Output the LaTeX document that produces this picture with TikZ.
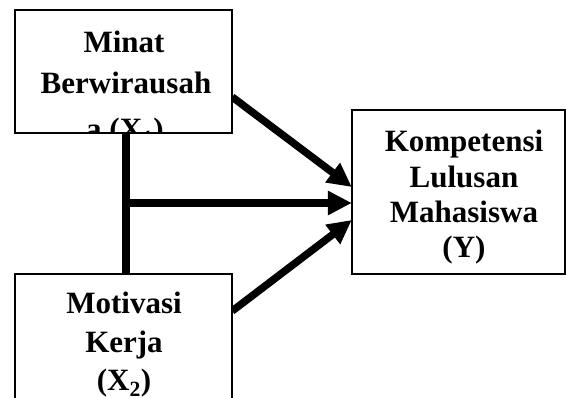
\documentclass[tikz,border=0pt]{standalone}
\usepackage{fontspec}
\setmainfont{Liberation Serif}
\usetikzlibrary{arrows.meta}

\tikzset{
  box/.style={draw=black, line width=1.5pt, fill=white, inner sep=0pt, rectangle},
  lbl/.style={anchor=base, inner sep=0pt, font=\fontsize{31}{36}\selectfont\bfseries},
  link/.style={line width=7.5pt, line cap=butt},
  arr/.style={link, -{Triangle[length=24pt, width=23pt]}}
}

\begin{document}
\begin{tikzpicture}[x=1pt, y=-1pt]
  \clip (0,0) rectangle (566,398);
  \fill[white] (0,0) rectangle (566,398);

  % anchor points along the box borders
  \coordinate (j)  at (126,203);
  \coordinate (u1) at (232,97);
  \coordinate (u2) at (351,187);
  \coordinate (l1) at (232,311);
  \coordinate (l2) at (351,220);

  % boxes (first pass only gives their anchors)
  \path
    node[minimum width=217pt, minimum height=123pt, inner sep=0pt] (b1) at (123.5,71.5) {}
    node[minimum width=217pt, minimum height=146pt, inner sep=0pt] (b2) at (123.5,347) {}
    node[minimum width=213pt, minimum height=164pt, inner sep=0pt] (b3) at (458.5,192) {};

  % connectors
  \draw[link] (b1.south -| j) -- (b2.north -| j);
  \draw[arr] (j) -- (b3.west |- j);
  \draw[arr] (b1.east |- u1) -- (b3.west |- u2);
  \draw[arr] (b2.east |- l1) -- (b3.west |- l2);

  % box outlines on top
  \node[box, minimum width=217pt, minimum height=123pt] (f1) at (b1) {};
  \node[box, minimum width=217pt, minimum height=146pt] (f2) at (b2) {};
  \node[box, minimum width=213pt, minimum height=164pt] (f3) at (b3) {};

  % labels, clipped to their boxes
  \begin{scope}
    \clip (b1.north west) rectangle (b1.south east);
    \node[lbl] (t1a) at (124,53)  {Minat};
    \node[lbl] (t1b) at (126,94)  {Berwirausah};
    \node[lbl] (t1c) at (125,140) {a (X\textsubscript{1})};
  \end{scope}
  \draw[line width=1.5pt] (b1.south west) -- (b1.south east);

  \node[lbl] (t2a) at (124,314) {Motivasi};
  \node[lbl] (t2b) at (124,353) {Kerja};
  \node[lbl] (t2c) at (124,391) {(X\textsubscript{2})};

  \node[lbl] (t3a) at (464,152) {Kompetensi};
  \node[lbl] (t3b) at (464,188) {Lulusan};
  \node[lbl] (t3c) at (464,223) {Mahasiswa};
  \node[lbl] (t3d) at (464,258) {(Y)};
\end{tikzpicture}
\end{document}
